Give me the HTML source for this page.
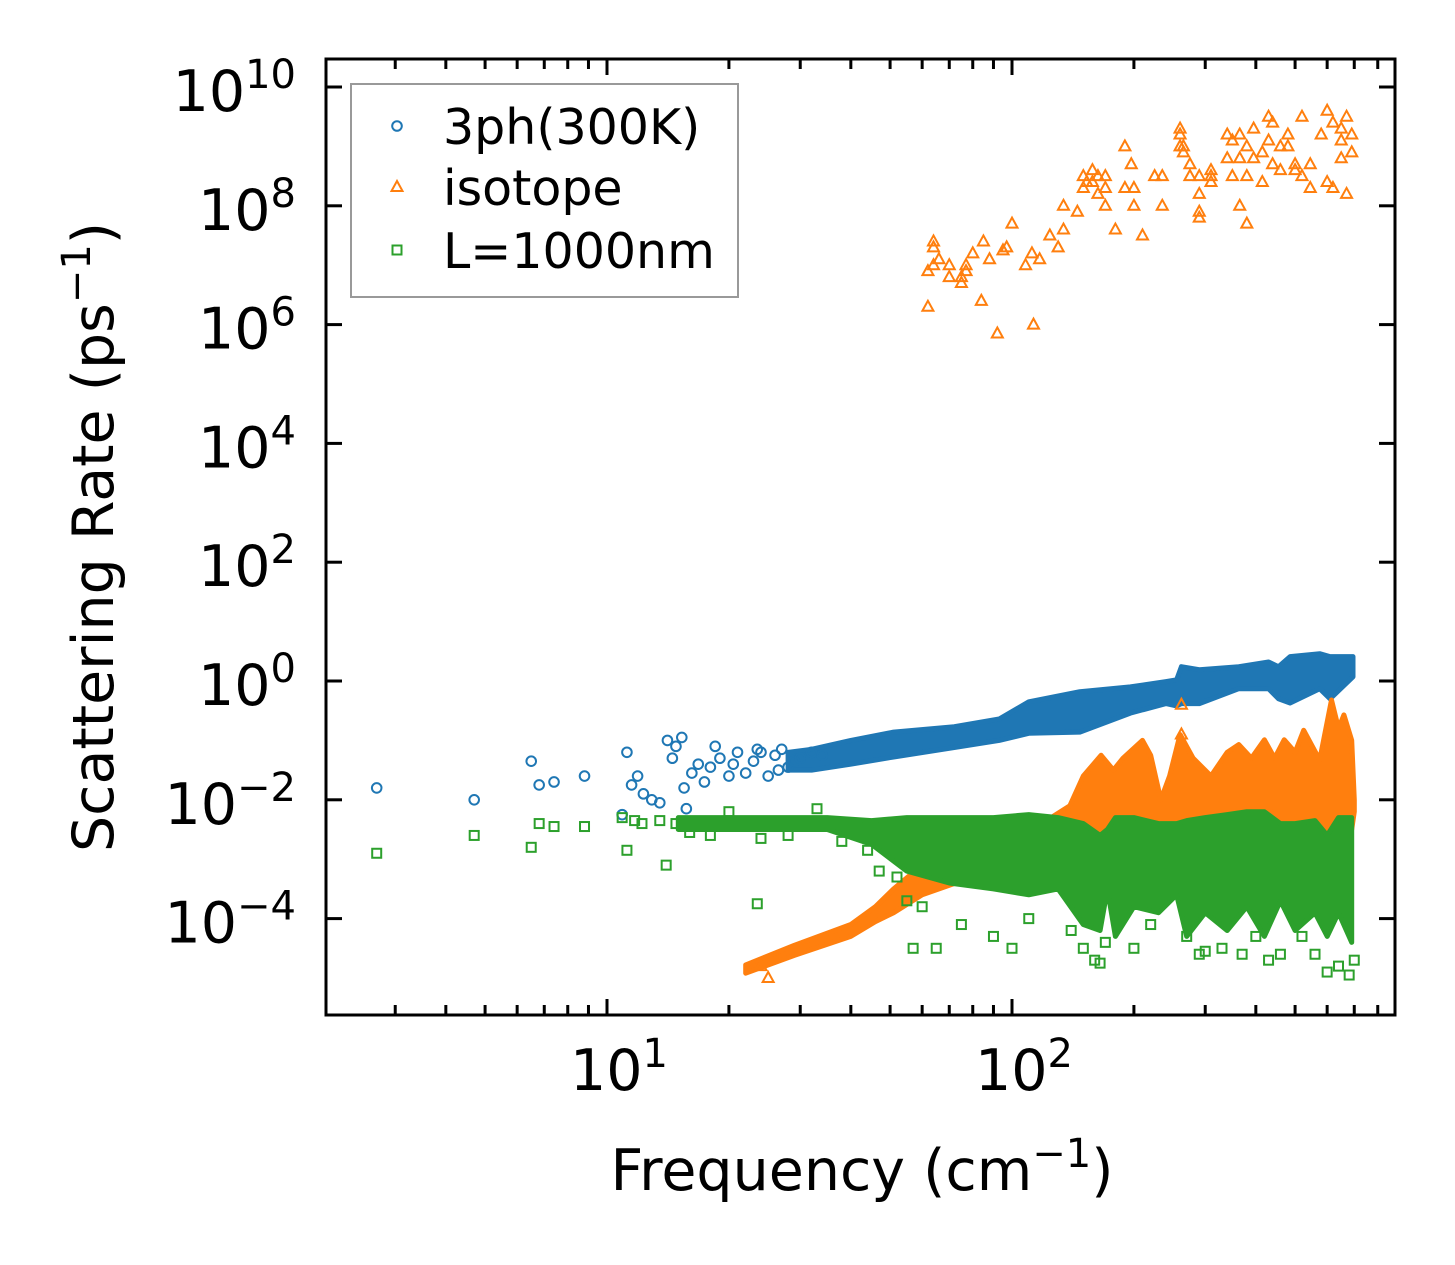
<!DOCTYPE html>
<html><head><meta charset="utf-8"><style>
html,body{margin:0;padding:0;background:#fff;}
svg{display:block;font-family:"DejaVu Sans","Liberation Sans",sans-serif;}
</style></head><body>
<svg id="chart" width="1455" height="1265" viewBox="0 0 1455 1265" xmlns="http://www.w3.org/2000/svg">
<rect width="1455" height="1265" fill="#fff"/>
<defs><clipPath id="plotclip"><rect x="326" y="59" width="1069" height="956"/></clipPath></defs>
<g id="bands" clip-path="url(#plotclip)"></g>
<g id="axes"></g>
</svg>
<script>
// ---- data (frequency in cm^-1, rate as log10 of ps^-1) ----
const blueX = [2.7,4.7,6.5,6.8,7.4,8.8,10.9,11.2,11.5,11.9,12.3,12.9,13.5,14.1,14.5,14.8,15.3,15.5,15.7,16.2,16.8,17.4,18,19,20,21,22,23,24,25,26,27,28,29,30,32,34,18.5,20.5,23.5,26.5];
const blueY = [-1.8,-2,-1.35,-1.75,-1.7,-1.6,-2.25,-1.2,-1.75,-1.6,-1.9,-2,-2.05,-1,-1.3,-1.1,-0.95,-1.8,-2.15,-1.55,-1.4,-1.7,-1.45,-1.3,-1.6,-1.2,-1.55,-1.35,-1.2,-1.6,-1.25,-1.15,-1.45,-1.35,-1.3,-1.2,-1.25,-1.1,-1.4,-1.15,-1.5];
const blueBandX = [28,32,40,51,72,93,110,147,196,240,255,262,290,363,430,455,486,575,610,695];
const blueBandLo = [-1.5,-1.5,-1.4,-1.28,-1.12,-1.0,-0.88,-0.86,-0.54,-0.38,-0.42,-0.38,-0.38,-0.13,-0.13,-0.3,-0.37,-0.13,-0.3,0.07];
const blueBandHi = [-1.2,-1.15,-1.0,-0.86,-0.77,-0.64,-0.35,-0.18,-0.1,-0.01,0.02,0.24,0.19,0.24,0.32,0.24,0.41,0.46,0.41,0.41];

const orangeX = [62,62,64,64,64,66,70,70,75,75,77,77,80,84,85,88,92,95,97,100,108,112,113,117,124,130,134,134,145,150,150,153,158,158,163,163,170,170,170,180,190,190,197,200,200,210,225,235,235,260,260,260,265,265,275,275,290,290,290,290,310,310,310,340,340,350,350,365,365,365,380,380,380,395,395,415,415,430,430,440,440,460,460,480,480,500,500,520,520,545,545,580,600,600,620,620,650,650,650,670,670,690,690,24,25,262,262,360,440,600,620];
const orangeY = [6.3,6.9,7.0,7.3,7.4,7.1,7.0,6.8,6.7,6.8,6.9,7.0,7.2,6.4,7.4,7.1,5.85,7.25,7.3,7.7,7.0,7.2,6.0,7.1,7.5,7.3,7.6,8.0,7.9,8.3,8.5,8.4,8.6,8.4,8.2,8.5,8.5,8.3,8.0,7.6,8.3,9.0,8.7,8.3,8.0,7.5,8.5,8.0,8.5,9.0,9.3,9.2,9.0,8.9,8.7,8.5,8.5,8.2,7.9,7.8,8.4,8.6,8.5,8.8,9.2,9.1,8.5,8.8,9.2,8.0,8.5,9.0,7.7,9.3,8.8,8.9,8.4,9.1,9.5,9.4,8.7,8.6,9.0,9.0,9.2,8.7,8.6,9.5,8.5,8.7,8.3,9.2,9.6,8.4,9.4,8.3,9.1,9.3,8.8,9.5,8.2,9.2,8.9,-4.8,-5.0,-0.4,-0.9,-2.8,-2.3,-2.6,-2.9];
const orangeBandX = [22,29,40,46,51,60,80,100,125,139,150,166,178,188,210,220,233,245,260,280,310,340,363,390,420,445,470,500,525,575,615,640,660,690,700];
const orangeBandLo = [-4.92,-4.62,-4.3,-4.05,-3.9,-3.6,-3.3,-3.0,-2.8,-2.7,-2.6,-2.6,-2.7,-2.6,-2.6,-2.6,-2.7,-2.7,-2.6,-2.6,-2.6,-2.5,-2.5,-2.5,-2.5,-2.5,-2.5,-2.5,-2.5,-2.5,-2.5,-2.5,-2.5,-2.5,-2.2];
const orangeBandHi = [-4.78,-4.45,-4.1,-3.8,-3.5,-3.1,-2.8,-2.6,-2.3,-2.1,-1.6,-1.25,-1.5,-1.3,-1.0,-1.25,-2.0,-1.6,-0.9,-1.3,-1.6,-1.2,-1.07,-1.3,-0.99,-1.3,-0.99,-1.2,-0.83,-1.33,-0.32,-0.8,-0.57,-1.0,-2.0];

const greenX = [2.7,4.7,6.5,6.8,7.4,8.8,10.9,11.2,11.7,12.2,13.5,14,14.8,23.5,47,52,55,57,60,65,75,90,100,110,140,150,160,170,200,220,270,290,330,370,400,460,520,560,640,700,165,300,430,600,680,16,18,20,24,28,33,38,44];
const greenY = [-2.9,-2.6,-2.8,-2.4,-2.45,-2.45,-2.3,-2.85,-2.35,-2.4,-2.35,-3.1,-2.4,-3.75,-3.2,-3.3,-3.7,-4.5,-3.8,-4.5,-4.1,-4.3,-4.5,-4.0,-4.2,-4.5,-4.7,-4.4,-4.5,-4.1,-4.3,-4.6,-4.5,-4.6,-4.3,-4.6,-4.3,-4.6,-4.8,-4.7,-4.75,-4.55,-4.7,-4.9,-4.95,-2.55,-2.6,-2.2,-2.65,-2.6,-2.15,-2.7,-2.85];
const greenBandX = [15,25,35,45,55,70,90,110,130,150,165,172,180,200,230,255,270,300,340,380,420,460,500,560,600,640,690];
const greenBandLo = [-2.5,-2.5,-2.5,-2.75,-3.2,-3.4,-3.5,-3.6,-3.5,-4.1,-4.2,-3.5,-4.3,-3.8,-3.9,-3.6,-4.3,-3.9,-4.2,-3.8,-4.3,-3.7,-4.2,-3.9,-4.3,-3.9,-4.4];
const greenBandHi = [-2.3,-2.3,-2.3,-2.35,-2.3,-2.3,-2.3,-2.25,-2.3,-2.4,-2.6,-2.5,-2.3,-2.3,-2.4,-2.4,-2.35,-2.3,-2.25,-2.2,-2.2,-2.4,-2.4,-2.35,-2.6,-2.3,-2.3];

const yTicks = [-4,-2,0,2,4,6,8,10];
const xTicks = [1,2];

// ---- axis functions ----
const X0 = 607, DEC = 405;
function sx(f){ return X0 + (Math.log10(f) - 1) * DEC; }
const Y0 = 681, YD = 59.4;
function sy(l){ return Y0 - l * YD; }

const NS = "http://www.w3.org/2000/svg";
const bands = document.getElementById('bands');
const axes = document.getElementById('axes');
function mk(tag, attrs, parent){
  const e = document.createElementNS(NS, tag);
  for (const k in attrs) e.setAttribute(k, attrs[k]);
  parent.appendChild(e); return e;
}
const C = {blue:'#1f77b4', orange:'#ff7f0e', green:'#2ca02c'};

function band(xs, lo, hi, color, name){
  let d = '';
  xs.forEach((f,i)=>{ d += (i?'L':'M') + sx(f).toFixed(1) + ',' + sy(hi[i]).toFixed(1); });
  for (let i = xs.length-1; i >= 0; i--) d += 'L' + sx(xs[i]).toFixed(1) + ',' + sy(lo[i]).toFixed(1);
  d += 'Z';
  const p = mk('path', {d:d, fill:color, stroke:color, 'stroke-width':5, 'stroke-linejoin':'round'}, bands);
  
  
}
function marker(kind, cx, cy, color, parent){
  let e;
  if (kind === 'circle') e = mk('circle', {cx:cx, cy:cy, r:4.8, fill:'none', stroke:color, 'stroke-width':2}, parent);
  else if (kind === 'tri') e = mk('polygon', {points:`${cx},${cy-6} ${cx-5.5},${cy+4} ${cx+5.5},${cy+4}`, fill:'none', stroke:color, 'stroke-width':2}, parent);
  else e = mk('rect', {x:cx-4.5, y:cy-4.5, width:9, height:9, fill:'none', stroke:color, 'stroke-width':2}, parent);
  return e;
}
function scatter(xs, ys, kind, color, name){
  xs.forEach((f,i)=>{
    const m = marker(kind, sx(f), sy(ys[i]), color, bands);
    
    
  });
}
band(blueBandX, blueBandLo, blueBandHi, C.blue, 'band-3ph');
scatter(blueX, blueY, 'circle', C.blue, 'point-3ph');
band(orangeBandX, orangeBandLo, orangeBandHi, C.orange, 'band-isotope');
scatter(orangeX, orangeY, 'tri', C.orange, 'point-isotope');
band(greenBandX, greenBandLo, greenBandHi, C.green, 'band-boundary');
scatter(greenX, greenY, 'square', C.green, 'point-boundary');

// ---- axes frame ----
const frame = mk('rect', {x:326, y:59, width:1069, height:956, fill:'none', stroke:'#000', 'stroke-width':3}, axes);



yTicks.forEach(t=>{
  const y = sy(t);
  mk('line', {x1:326, x2:342, y1:y, y2:y, stroke:'#000', 'stroke-width':3}, axes);
  mk('line', {x1:1395, x2:1379, y1:y, y2:y, stroke:'#000', 'stroke-width':3}, axes);
  const tx = mk('text', {x:296, y:y+24, 'text-anchor':'end', 'font-size':57, fill:'#000'}, axes);
  
  
  const a = document.createElementNS(NS,'tspan'); a.textContent = '10'; tx.appendChild(a);
  const b = document.createElementNS(NS,'tspan'); b.setAttribute('dy', -23); b.setAttribute('font-size', 40);
  b.textContent = (t < 0 ? '\u2212' + (-t) : String(t)); tx.appendChild(b);
});
for (let dec = 0; dec <= 2; dec++){
  for (let m = 1; m <= 9; m++){
    const f = m * Math.pow(10, dec);
    const x = sx(f);
    if (x < 327 || x > 1394) continue;
    const len = m === 1 ? 16 : 10;
    mk('line', {x1:x, x2:x, y1:1015, y2:1015-len, stroke:'#000', 'stroke-width':3}, axes);
    mk('line', {x1:x, x2:x, y1:59, y2:59+len, stroke:'#000', 'stroke-width':3}, axes);
  }
}
xTicks.forEach(t=>{
  const x = sx(Math.pow(10,t));
  const tx = mk('text', {x:x+12, y:1090, 'text-anchor':'middle', 'font-size':57, fill:'#000'}, axes);
  
  
  const a = document.createElementNS(NS,'tspan'); a.textContent = '10'; tx.appendChild(a);
  const b = document.createElementNS(NS,'tspan'); b.setAttribute('dy', -23); b.setAttribute('font-size', 40);
  b.textContent = String(t); tx.appendChild(b);
});
</script>
<svg style="position:absolute;left:0;top:0" width="1455" height="1265">
  <text x="862" y="1190" text-anchor="middle" font-size="57" font-family="DejaVu Sans, Liberation Sans, sans-serif">Frequency (cm<tspan dy="-23" font-size="40">−1</tspan><tspan dy="23">)</tspan></text>
  <text transform="translate(113,537) rotate(-90)" text-anchor="middle" font-size="57" font-family="DejaVu Sans, Liberation Sans, sans-serif">Scattering Rate (ps<tspan dy="-23" font-size="40">−1</tspan><tspan dy="23">)</tspan></text>
  <g>
    <rect x="351" y="84" width="387" height="213" fill="#fff" fill-opacity="0.8" stroke="#999" stroke-width="2"/>
    <circle cx="397" cy="126" r="4.8" fill="none" stroke="#1f77b4" stroke-width="2"/>
    <text x="443" y="144" font-size="49" font-family="DejaVu Sans, Liberation Sans, sans-serif">3ph(300K)</text>
    <polygon points="397,181 391.5,191 402.5,191" fill="none" stroke="#ff7f0e" stroke-width="2"/>
    <text x="443" y="205" font-size="49" font-family="DejaVu Sans, Liberation Sans, sans-serif">isotope</text>
    <rect x="392.5" y="245.5" width="9" height="9" fill="none" stroke="#2ca02c" stroke-width="2"/>
    <text x="443" y="268" font-size="49" font-family="DejaVu Sans, Liberation Sans, sans-serif">L=1000nm</text>
  </g>
</svg>
</body></html>
